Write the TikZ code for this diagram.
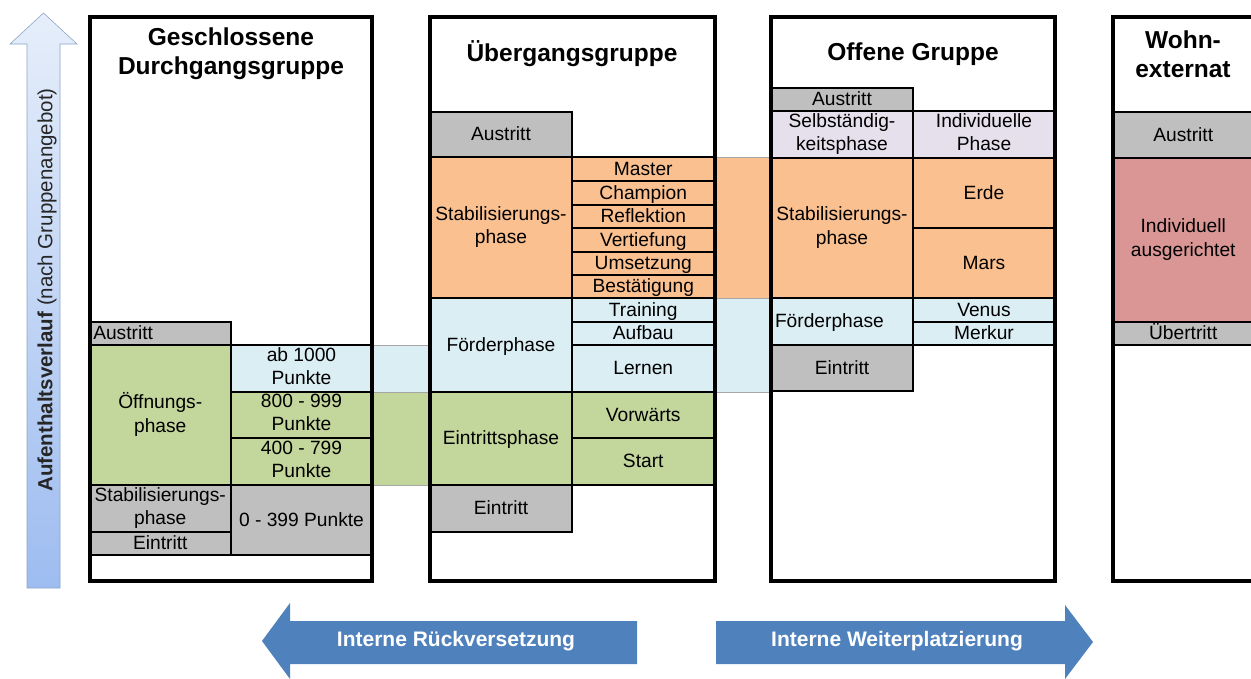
\documentclass[tikz,border=0pt]{standalone}
\usepackage{fontspec}
\setmainfont{Liberation Sans}
\definecolor{cgray}{HTML}{BFBFBF}
\definecolor{cgreen}{HTML}{C3D69B}
\definecolor{cblue}{HTML}{DBEEF4}
\definecolor{corange}{HTML}{FAC090}
\definecolor{clav}{HTML}{E5E0EC}
\definecolor{cred}{HTML}{D99694}
\definecolor{carrow}{HTML}{4F81BD}
\definecolor{vtop}{HTML}{E6EEFA}
\definecolor{vbot}{HTML}{9DBCF0}
\definecolor{vline}{HTML}{8EA6C6}
\newcommand\mycellfont{\fontsize{19.2}{23.3}\selectfont}
\newcommand\mytitlefont{\bfseries\fontsize{24.5}{29}\selectfont}
\newcommand\mystrut{\rule[-5pt]{0pt}{22pt}}
\newcommand\cellbox[8][center]{%
  \node[cell, fill=#7, minimum width={(#5-#3)*1pt}, minimum height={(#6-#4)*1pt}, #1] (#2) at ({(#3+#5)/2},{(#4+#6)/2}) {#8};}
\tikzset{
  cell/.style={draw=black, line width=1.8pt, inner sep=0pt, font=\mycellfont, text=black,
    execute at begin node=\mystrut, execute at end node=\mystrut},
  center/.style={align=center},
  left/.style={align=left, text width=134pt},
  frame/.style={draw=black, line width=4pt},
  band/.style={draw=gray!70, line width=0.6pt},
  title/.style={font=\mytitlefont, align=center, text=black},
  bigarrow/.style={fill=carrow, draw=none},
  arrowtext/.style={font=\bfseries\fontsize{21}{25}\selectfont, text=white}
}
\begin{document}
\begin{tikzpicture}[x=1pt,y=-1pt]
\useasboundingbox (0,0) rectangle (1251,678);
\clip (0,0) rectangle (1251,678);
\fill[white] (0,0) rectangle (1251,678);

% vertical arrow
\shade[top color=vtop, bottom color=vbot, draw=vline, line width=0.6pt]
  (27,588) -- (27,44) -- (10,44) -- (43.5,13) -- (77,44) -- (60,44) -- (60,588) -- cycle;
\node[rotate=90, font=\fontsize{20.5}{24}\selectfont, text=black!85] (vtext) at (47,290)
  {\textbf{Aufenthaltsverlauf} (nach Gruppenangebot)};

% bands between columns
\path[band, fill=cblue] (372,345) rectangle (430,392);
\path[band, fill=cgreen] (372,392) rectangle (430,485);
\path[band, fill=corange] (714.5,157) rectangle (771,298);
\path[band, fill=cblue] (714.5,298) rectangle (771,392);

% column 1
\cellbox[left]{c1aus}{89.5}{322}{231}{345}{cgray}{Austritt}
\cellbox{c1oeff}{89.5}{345}{231}{485}{cgreen}{Öffnungs-\\phase}
\cellbox{c1pa}{231}{345}{372}{392}{cblue}{ab 1000\\Punkte}
\cellbox{c1pb}{231}{392}{372}{438}{cgreen}{800 - 999\\Punkte}
\cellbox{c1pc}{231}{438}{372}{485}{cgreen}{400 - 799\\Punkte}
\cellbox{c1stab}{89.5}{485}{231}{532}{cgray}{Stabilisierungs-\\phase}
\cellbox{c1ein}{89.5}{532}{231}{555}{cgray}{Eintritt}
\cellbox{c1pd}{231}{485}{372}{555}{cgray}{0 - 399 Punkte}

% column 2
\cellbox{c2aus}{430}{112}{572}{157}{cgray}{Austritt}
\cellbox{c2stab}{430}{157}{572}{298}{corange}{Stabilisierungs-\\phase}
\cellbox{c2master}{572}{157}{714.5}{181}{corange}{Master}
\cellbox{c2champ}{572}{181}{714.5}{205}{corange}{Champion}
\cellbox{c2refl}{572}{205}{714.5}{228}{corange}{Reflektion}
\cellbox{c2vert}{572}{228}{714.5}{252}{corange}{Vertiefung}
\cellbox{c2ums}{572}{252}{714.5}{275}{corange}{Umsetzung}
\cellbox{c2best}{572}{275}{714.5}{298}{corange}{Bestätigung}
\cellbox{c2foer}{430}{298}{572}{392}{cblue}{Förderphase}
\cellbox{c2train}{572}{298}{714.5}{322}{cblue}{Training}
\cellbox{c2aufb}{572}{322}{714.5}{345}{cblue}{Aufbau}
\cellbox{c2lern}{572}{345}{714.5}{392}{cblue}{Lernen}
\cellbox{c2eint}{430}{392}{572}{485}{cgreen}{Eintrittsphase}
\cellbox{c2vorw}{572}{392}{714.5}{438}{cgreen}{Vorwärts}
\cellbox{c2start}{572}{438}{714.5}{485}{cgreen}{Start}
\cellbox{c2ein}{430}{485}{572}{532}{cgray}{Eintritt}

% column 3
\cellbox{c3aus}{771}{88}{913}{111}{cgray}{Austritt}
\cellbox{c3selb}{771}{111}{913}{158}{clav}{Selbständig-\\keitsphase}
\cellbox{c3ind}{913}{111}{1055}{158}{clav}{Individuelle\\Phase}
\cellbox{c3stab}{771}{158}{913}{298}{corange}{Stabilisierungs-\\phase}
\cellbox{c3erde}{913}{158}{1055}{228}{corange}{Erde}
\cellbox{c3mars}{913}{228}{1055}{298}{corange}{Mars}
\cellbox[left]{c3foer}{771}{298}{913}{345}{cblue}{Förderphase}
\cellbox{c3venus}{913}{298}{1055}{322}{cblue}{Venus}
\cellbox{c3merkur}{913}{322}{1055}{345}{cblue}{Merkur}
\cellbox{c3ein}{771}{345}{913}{391}{cgray}{Eintritt}

% column 4
\cellbox{c4aus}{1112.5}{112}{1254}{158}{cgray}{Austritt}
\cellbox{c4ind}{1112.5}{158}{1254}{322}{cred}{Individuell\\ausgerichtet}
\cellbox{c4ueb}{1112.5}{322}{1254}{345}{cgray}{Übertritt}

% frames
\draw[frame] (89.5,17) rectangle (372,581);
\draw[frame] (430,17) rectangle (714.5,581);
\draw[frame] (771,17) rectangle (1055,581);
\draw[frame] (1112.5,17) rectangle (1254,581);

% titles
\node[title] (t1) at (231,54) {Geschlossene\\Durchgangsgruppe};
\node[title] (t2) at (572,54) {Übergangsgruppe};
\node[title] (t3) at (913,54) {Offene Gruppe};
\node[title] (t4) at (1183,54) {Wohn-\\externat};

% bottom arrows
\path[bigarrow] (262,641) -- (290,603) -- (290,621) -- (637,621) -- (637,664) -- (290,664) -- (290,679) -- cycle;
\node[arrowtext] (back) at (456,641) {Interne Rückversetzung};
\path[bigarrow] (716,621) -- (1065,621) -- (1065,605) -- (1093,642) -- (1065,679) -- (1065,664) -- (716,664) -- cycle;
\node[arrowtext] (fwd) at (897,641) {Interne Weiterplatzierung};
\end{tikzpicture}
\end{document}
